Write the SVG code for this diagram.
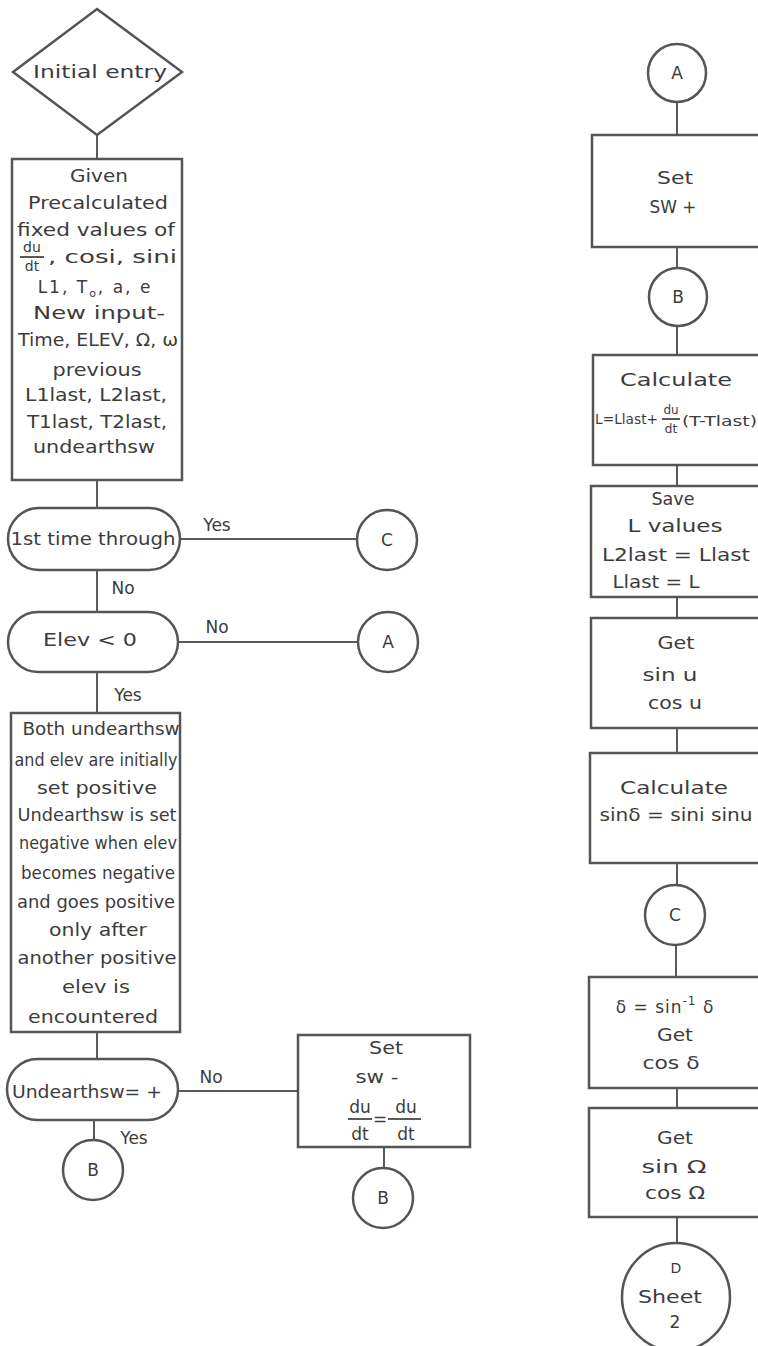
<svg xmlns="http://www.w3.org/2000/svg" width="758" height="1346" viewBox="0 0 758 1346">
<style>
.n{fill:none;stroke:#555;stroke-width:2.5}
.c{fill:none;stroke:#5a5a5a;stroke-width:2}
text{font-family:"DejaVu Sans","Liberation Sans",sans-serif;font-size:17px;fill:#3c3c3c;text-anchor:middle}
text.s{font-size:14px}
text.xs{font-size:12px}
.l{text-anchor:start}
</style>
<rect width="758" height="1346" fill="#fff"/>
<g id="connectors">
<line class="c" x1="97" y1="135" x2="97" y2="159"/>
<line class="c" x1="97" y1="480" x2="97" y2="508"/>
<line class="c" x1="180" y1="539" x2="357" y2="539"/>
<line class="c" x1="97" y1="570" x2="97" y2="612"/>
<line class="c" x1="178" y1="642" x2="358" y2="642"/>
<line class="c" x1="97" y1="672" x2="97" y2="713"/>
<line class="c" x1="97" y1="1032" x2="97" y2="1059"/>
<line class="c" x1="178" y1="1091" x2="298" y2="1091"/>
<line class="c" x1="94" y1="1120" x2="94" y2="1140"/>
<line class="c" x1="384" y1="1147" x2="384" y2="1168"/>
<line class="c" x1="677" y1="103" x2="677" y2="135"/>
<line class="c" x1="677" y1="247" x2="677" y2="268"/>
<line class="c" x1="677" y1="326" x2="677" y2="355"/>
<line class="c" x1="677" y1="465" x2="677" y2="486"/>
<line class="c" x1="677" y1="597" x2="677" y2="618"/>
<line class="c" x1="677" y1="728" x2="677" y2="753"/>
<line class="c" x1="677" y1="863" x2="677" y2="885"/>
<line class="c" x1="676" y1="945" x2="676" y2="977"/>
<line class="c" x1="677" y1="1088" x2="677" y2="1108"/>
<line class="c" x1="677" y1="1217" x2="677" y2="1243"/>
<text x="217" y="531">Yes</text>
<text x="123" y="594">No</text>
<text x="217" y="633">No</text>
<text x="128" y="701">Yes</text>
<text x="211" y="1083">No</text>
<text x="134" y="1144">Yes</text>
</g>
<g id="initial-entry">
<polygon class="n" points="97,9 182,72 97,135 13,72"/>
<text x="100" y="78" textLength="134" lengthAdjust="spacingAndGlyphs">Initial entry</text>
</g>
<g id="given-box">
<rect class="n" x="12" y="159" width="170" height="321"/>
<text x="99" y="182" textLength="58" lengthAdjust="spacingAndGlyphs">Given</text>
<text x="98" y="209" textLength="140" lengthAdjust="spacingAndGlyphs">Precalculated</text>
<text x="96" y="236" textLength="158" lengthAdjust="spacingAndGlyphs">fixed values of</text>
<text class="s" x="32" y="252">du</text>
<line class="c" x1="20" y1="257" x2="44" y2="257"/>
<text class="s" x="32" y="271">dt</text>
<text class="l" x="48" y="263" textLength="129" lengthAdjust="spacingAndGlyphs">, cosi, sini</text>
<text x="95" y="293" letter-spacing="2">L1, T<tspan font-size="11" dy="4">o</tspan><tspan dy="-4">, a, e</tspan></text>
<text x="99" y="319" textLength="132" lengthAdjust="spacingAndGlyphs">New input-</text>
<text x="98" y="346" textLength="160" lengthAdjust="spacingAndGlyphs">Time, ELEV, Ω, ω</text>
<text x="97" y="376" textLength="89" lengthAdjust="spacingAndGlyphs">previous</text>
<text x="96" y="401" textLength="142" lengthAdjust="spacingAndGlyphs">L1last, L2last,</text>
<text x="97" y="428" textLength="140" lengthAdjust="spacingAndGlyphs">T1last, T2last,</text>
<text x="94" y="453" textLength="122" lengthAdjust="spacingAndGlyphs">undearthsw</text>
</g>
<g id="first-time">
<rect class="n" x="8" y="508" width="172" height="62" rx="31"/>
<text x="93" y="545" textLength="165" lengthAdjust="spacingAndGlyphs">1st time through</text>
</g>
<g id="conn-c-left">
<circle class="n" cx="387" cy="540" r="30"/>
<text x="387" y="546">C</text>
</g>
<g id="elev">
<rect class="n" x="8" y="612" width="170" height="60" rx="30"/>
<text x="90" y="646" textLength="94" lengthAdjust="spacingAndGlyphs">Elev &lt; 0</text>
</g>
<g id="conn-a-left">
<circle class="n" cx="388" cy="642" r="30"/>
<text x="388" y="648">A</text>
</g>
<g id="both-box">
<rect class="n" x="11" y="713" width="169" height="319"/>
<text x="101" y="735" textLength="157" lengthAdjust="spacingAndGlyphs">Both undearthsw</text>
<text x="96" y="766" textLength="163" lengthAdjust="spacingAndGlyphs">and elev are initially</text>
<text x="97" y="794" textLength="120" lengthAdjust="spacingAndGlyphs">set positive</text>
<text x="97" y="821" textLength="159" lengthAdjust="spacingAndGlyphs">Undearthsw is set</text>
<text x="98" y="849" textLength="158" lengthAdjust="spacingAndGlyphs">negative when elev</text>
<text x="98" y="879" textLength="154" lengthAdjust="spacingAndGlyphs">becomes negative</text>
<text x="96" y="908" textLength="158" lengthAdjust="spacingAndGlyphs">and goes positive</text>
<text x="98" y="936" textLength="98" lengthAdjust="spacingAndGlyphs">only after</text>
<text x="97" y="964" textLength="159" lengthAdjust="spacingAndGlyphs">another positive</text>
<text x="96" y="993" textLength="68" lengthAdjust="spacingAndGlyphs">elev is</text>
<text x="93" y="1023" textLength="130" lengthAdjust="spacingAndGlyphs">encountered</text>
</g>
<g id="undearth">
<rect class="n" x="7" y="1059" width="171" height="61" rx="30.5"/>
<text x="87" y="1098" textLength="150" lengthAdjust="spacingAndGlyphs">Undearthsw= +</text>
</g>
<g id="conn-b-left">
<circle class="n" cx="93" cy="1170" r="30"/>
<text x="93" y="1176">B</text>
</g>
<g id="set-sw-minus">
<rect class="n" x="298" y="1035" width="172" height="112"/>
<text x="386" y="1054" textLength="34" lengthAdjust="spacingAndGlyphs">Set</text>
<text x="377" y="1083" textLength="43" lengthAdjust="spacingAndGlyphs">sw -</text>
<text x="360" y="1113">du</text>
<line class="c" x1="348" y1="1119" x2="372" y2="1119"/>
<text x="360" y="1140">dt</text>
<text x="380" y="1125">=</text>
<text x="406" y="1113">du</text>
<line class="c" x1="388" y1="1119" x2="421" y2="1119"/>
<text x="406" y="1140">dt</text>
</g>
<g id="conn-b-mid">
<circle class="n" cx="383" cy="1198" r="30"/>
<text x="383" y="1204">B</text>
</g>
<g id="conn-a-right">
<circle class="n" cx="677" cy="73" r="29"/>
<text x="677" y="79">A</text>
</g>
<g id="set-sw-plus">
<rect class="n" x="592" y="135" width="172" height="112"/>
<text x="675" y="184" textLength="36" lengthAdjust="spacingAndGlyphs">Set</text>
<text x="673" y="213" textLength="47" lengthAdjust="spacingAndGlyphs">SW +</text>
</g>
<g id="conn-b-right">
<circle class="n" cx="678" cy="297" r="29"/>
<text x="678" y="303">B</text>
</g>
<g id="calc-l">
<rect class="n" x="593" y="355" width="171" height="110"/>
<text x="676" y="386" textLength="112" lengthAdjust="spacingAndGlyphs">Calculate</text>
<text class="s l" x="595" y="424" textLength="63" lengthAdjust="spacingAndGlyphs">L=Llast+</text>
<text class="xs" x="671" y="414">du</text>
<line class="c" x1="662" y1="419" x2="680" y2="419"/>
<text class="xs" x="671" y="433">dt</text>
<text class="s l" x="682" y="426" textLength="75" lengthAdjust="spacingAndGlyphs">(T-Tlast)</text>
</g>
<g id="save-l">
<rect class="n" x="591" y="486" width="173" height="111"/>
<text x="673" y="505" textLength="43" lengthAdjust="spacingAndGlyphs">Save</text>
<text x="675" y="532" textLength="95" lengthAdjust="spacingAndGlyphs">L values</text>
<text x="676" y="561" textLength="148" lengthAdjust="spacingAndGlyphs">L2last = Llast</text>
<text x="656" y="588" textLength="87" lengthAdjust="spacingAndGlyphs">Llast = L</text>
</g>
<g id="get-sinu">
<rect class="n" x="591" y="618" width="173" height="110"/>
<text x="676" y="649" textLength="37" lengthAdjust="spacingAndGlyphs">Get</text>
<text x="670" y="681" textLength="55" lengthAdjust="spacingAndGlyphs">sin u</text>
<text x="675" y="709" textLength="54" lengthAdjust="spacingAndGlyphs">cos u</text>
</g>
<g id="calc-sind">
<rect class="n" x="590" y="753" width="174" height="110"/>
<text x="674" y="794" textLength="108" lengthAdjust="spacingAndGlyphs">Calculate</text>
<text x="676" y="821" textLength="153" lengthAdjust="spacingAndGlyphs">sinδ = sini sinu</text>
</g>
<g id="conn-c-right">
<circle class="n" cx="675" cy="915" r="30"/>
<text x="675" y="921">C</text>
</g>
<g id="delta-box">
<rect class="n" x="589" y="977" width="175" height="111"/>
<text x="665" y="1013" letter-spacing="1">δ = sin<tspan font-size="12" dy="-8">-1</tspan><tspan dy="8"> δ</tspan></text>
<text x="675" y="1041" textLength="36" lengthAdjust="spacingAndGlyphs">Get</text>
<text x="671" y="1069" textLength="57" lengthAdjust="spacingAndGlyphs">cos δ</text>
</g>
<g id="get-sin-omega">
<rect class="n" x="589" y="1108" width="175" height="109"/>
<text x="675" y="1144" textLength="36" lengthAdjust="spacingAndGlyphs">Get</text>
<text x="674" y="1173" textLength="65" lengthAdjust="spacingAndGlyphs">sin Ω</text>
<text x="675" y="1199" textLength="60" lengthAdjust="spacingAndGlyphs">cos Ω</text>
</g>
<g id="conn-d">
<circle class="n" cx="676" cy="1297" r="54"/>
<text class="s" x="676" y="1273">D</text>
<text x="670" y="1303" textLength="64" lengthAdjust="spacingAndGlyphs">Sheet</text>
<text x="675" y="1328">2</text>
</g>
</svg>
